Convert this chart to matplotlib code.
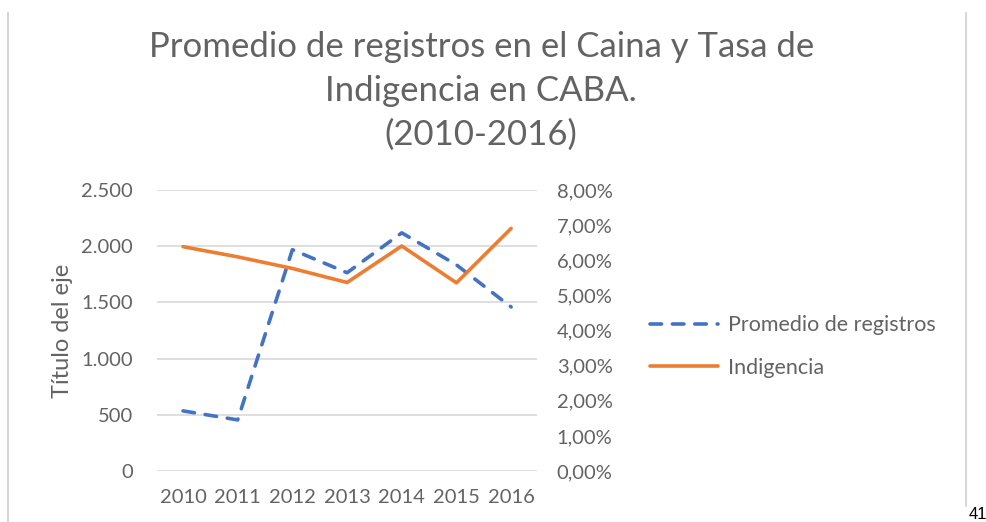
import matplotlib
matplotlib.use("Agg")
import matplotlib.pyplot as plt
from matplotlib.ticker import FuncFormatter

# data
years = ["2010", "2011", "2012", "2013", "2014", "2015", "2016"]
registros = [535, 455, 1970, 1765, 2120, 1835, 1460]
indigencia = [6.39, 6.10, 5.77, 5.37, 6.41, 5.36, 6.91]  # percent

left_ticks = [0, 500, 1000, 1500, 2000, 2500]
right_ticks = [0, 1, 2, 3, 4, 5, 6, 7, 8]

grey = "#636363"
plt.rcParams['font.family'] = ['Lato', 'DejaVu Sans']

fig = plt.figure(figsize=(9.86, 5.22), dpi=100)
ax1 = fig.add_axes([0.159, 0.0977, 0.386, 0.538])
ax2 = ax1.twinx()

x = range(len(years))
l1, = ax1.plot(x, registros, color="#4472C4", lw=2.6, dashes=(3.2, 3.0),
               dash_capstyle="round", label="Promedio de registros")
l2, = ax2.plot(x, indigencia, color="#ED7D31", lw=2.6, solid_capstyle="round",
               label="Indigencia")

ax1.set_xlim(-0.48, 6.48)
ax1.set_ylim(0, 2500)
ax2.set_ylim(0, 8)
ax1.set_yticks(left_ticks)
ax2.set_yticks(right_ticks)
ax1.set_xticks(list(x))
ax1.set_xticklabels(years)
ax1.yaxis.set_major_formatter(FuncFormatter(lambda v, p: "0" if v == 0 else f"{int(v):,}".replace(",", ".")))
ax2.yaxis.set_major_formatter(FuncFormatter(lambda v, p: f"{v:.2f}%".replace(".", ",")))

ax1.grid(axis="y", color="#d9d9d9", lw=1.2)
ax1.set_axisbelow(True)
for a in (ax1, ax2):
    for s in a.spines.values():
        s.set_visible(False)
    a.tick_params(length=0, labelsize=14.5, labelcolor=grey)
ax1.tick_params(axis="y", pad=17)
ax2.tick_params(axis="y", pad=14)
ax1.tick_params(axis="x", pad=13, labelsize=14.5)

ax1.set_ylabel("Título del eje", fontsize=17, color=grey, labelpad=6)

fig.text(0.488, 0.825, "Promedio de registros en el Caina y Tasa de\nIndigencia en CABA.\n(2010-2016)",
         ha="center", va="center", fontsize=25, color=grey, linespacing=1.45)

leg = fig.legend(handles=[l1, l2], loc="center left", bbox_to_anchor=(0.659, 0.336),
                 frameon=False, fontsize=15.5, handlelength=3.15, labelspacing=1.05,
                 handletextpad=0.5, borderpad=0, borderaxespad=0)
for t in leg.get_texts():
    t.set_color(grey)

# page border lines and page number
fig.add_artist(plt.Line2D([0.008, 0.008], [0.0, 0.975], color="#d0d0d0", lw=1.2))
fig.add_artist(plt.Line2D([0.980, 0.980], [0.03, 0.975], color="#d0d0d0", lw=1.2))
fig.text(0.982, 0.005, "41", fontsize=12, color="black", family="Liberation Sans")

fig.savefig("out.png", dpi=100)
